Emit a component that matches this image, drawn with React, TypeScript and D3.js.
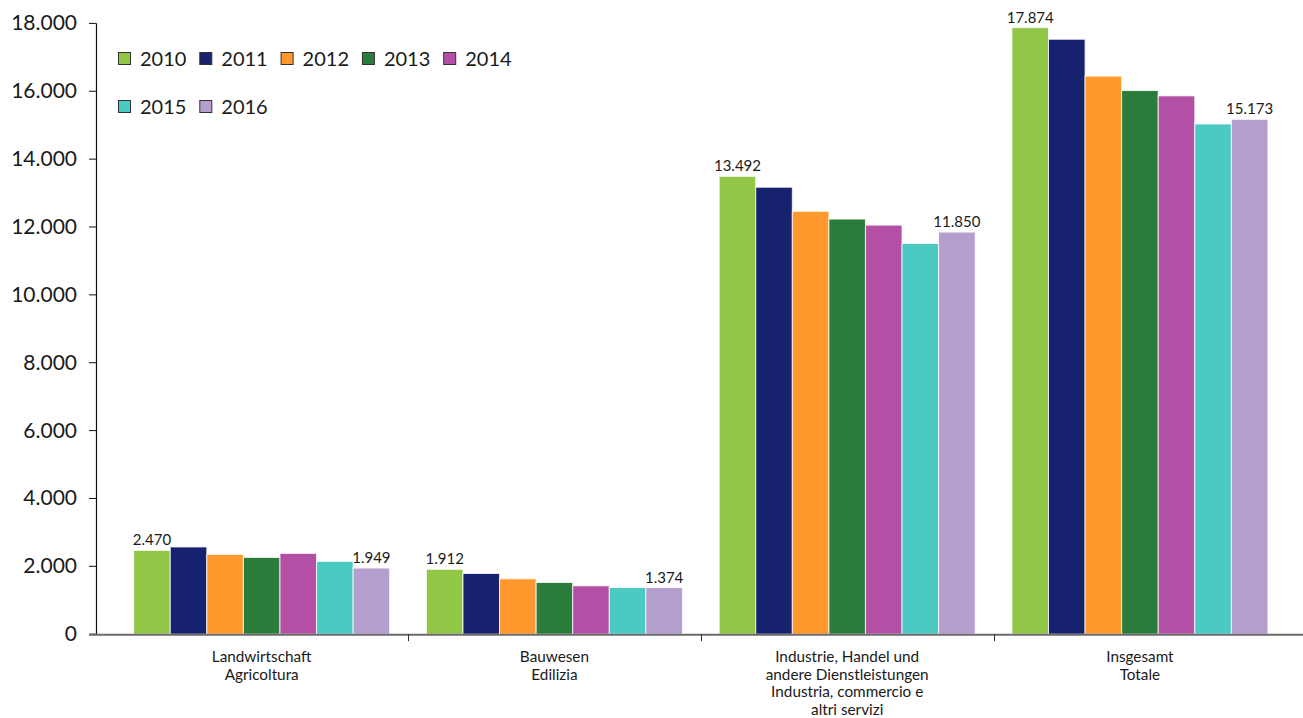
import { useEffect, useRef } from 'react';
import * as d3 from 'd3';

const WIDTH = 1303;
const HEIGHT = 718;

const YEARS = ['2010', '2011', '2012', '2013', '2014', '2015', '2016'];
const COLORS = ['#92c647', '#16226e', '#ff982d', '#2a7c3a', '#b350a6', '#4bcac4', '#b49ece'];

const CATEGORY_LINES = [
  ['Landwirtschaft', 'Agricoltura'],
  ['Bauwesen', 'Edilizia'],
  ['Industrie, Handel und', 'andere Dienstleistungen', 'Industria, commercio e', 'altri servizi'],
  ['Insgesamt', 'Totale'],
];

const AGRICOLTURA = [2470, 2571, 2352, 2263, 2382, 2145, 1949];
const EDILIZIA = [1912, 1790, 1633, 1524, 1426, 1376, 1374];
const INDUSTRIA = [13492, 13172, 12462, 12234, 12056, 11515, 11850];
const TOTALE = [17874, 17533, 16447, 16021, 15864, 15036, 15173];

const SERIES = [AGRICOLTURA, EDILIZIA, INDUSTRIA, TOTALE];

const Y_TICKS = [0, 2000, 4000, 6000, 8000, 10000, 12000, 14000, 16000, 18000];

const FONT = 'Lato, "Open Sans", sans-serif';

const itLocale = d3.formatLocale({
  decimal: ',',
  thousands: '.',
  grouping: [3],
  currency: ['', ''],
});
const fmt = itLocale.format(',d');

export default function App() {
  const svgRef = useRef<SVGSVGElement | null>(null);

  useEffect(() => {
    document.body.style.margin = '0';
    const svgEl = svgRef.current;
    if (!svgEl) return;
    const svg = d3.select(svgEl);
    svg.selectAll('*').remove();

    const y = d3.scaleLinear().domain([0, 18000]).range([634.2, 23.4]);
    const x0 = d3
      .scaleBand<number>()
      .domain(d3.range(CATEGORY_LINES.length))
      .range([115.3, 1286.3])
      .padding(0);
    const groupWidth = 256;
    const groupOffset = (x0.bandwidth() - groupWidth) / 2;
    const x1 = d3.scaleBand<string>().domain(YEARS).range([0, groupWidth]).padding(0);

    // ---- Y axis ---------------------------------------------------------
    const yAxis = svg.append('g');
    yAxis
      .append('line')
      .attr('x1', 96.5)
      .attr('x2', 96.5)
      .attr('y1', y(18000))
      .attr('y2', y(0))
      .attr('stroke', '#111')
      .attr('stroke-width', 1.2);
    const yt = yAxis
      .selectAll('g.tick')
      .data(Y_TICKS)
      .join('g')
      .attr('class', 'tick')
      .attr('transform', (d) => `translate(0, ${y(d)})`);
    yt.append('line')
      .attr('x1', 89)
      .attr('x2', 96.5)
      .attr('stroke', '#111')
      .attr('stroke-width', 1);
    yt.append('text')
      .attr('x', 77)
      .attr('y', 7)
      .attr('text-anchor', 'end')
      .attr('font-family', FONT)
      .attr('font-size', 21)
      .attr('fill', '#1a1a1a')
      .text((d) => fmt(d));

    // ---- Bars -----------------------------------------------------------
    const groups = svg
      .append('g')
      .selectAll('g.group')
      .data(SERIES)
      .join('g')
      .attr('class', 'group')
      .attr('transform', (_, i) => `translate(${(x0(i) ?? 0) + groupOffset}, 0)`);

    groups
      .selectAll('rect')
      .data((values) => values.map((v, j) => ({ v, j })))
      .join('rect')
      .attr('x', (d) => x1(YEARS[d.j]) ?? 0)
      .attr('width', x1.bandwidth())
      .attr('y', (d) => y(d.v))
      .attr('height', (d) => y(0) - y(d.v))
      .attr('fill', (d) => COLORS[d.j])
      .attr('stroke', '#ffffff')
      .attr('stroke-opacity', 0.8)
      .attr('stroke-width', 1);

    // value labels on first and last year
    groups
      .selectAll('text.value')
      .data((values) =>
        values.map((v, j) => ({ v, j })).filter((d) => d.j === 0 || d.j === YEARS.length - 1),
      )
      .join('text')
      .attr('class', 'value')
      .attr('x', (d) => (x1(YEARS[d.j]) ?? 0) + x1.bandwidth() / 2)
      .attr('y', (d) => y(d.v) - 5)
      .attr('text-anchor', 'middle')
      .attr('font-family', FONT)
      .attr('font-size', 15)
      .attr('fill', '#1a1a1a')
      .text((d) => fmt(d.v));

    // ---- X axis ---------------------------------------------------------
    const xAxis = svg.append('g');
    xAxis
      .append('line')
      .attr('x1', 89)
      .attr('x2', WIDTH)
      .attr('y1', y(0) + 0.5)
      .attr('y2', y(0) + 0.5)
      .attr('stroke', '#6b6b6b')
      .attr('stroke-width', 2);
    xAxis
      .selectAll('line.sep')
      .data(d3.range(1, CATEGORY_LINES.length))
      .join('line')
      .attr('class', 'sep')
      .attr('x1', (i) => Math.round(x0(i) ?? 0) + 0.5)
      .attr('x2', (i) => Math.round(x0(i) ?? 0) + 0.5)
      .attr('y1', y(0))
      .attr('y2', y(0) + 7)
      .attr('stroke', '#333')
      .attr('stroke-width', 1);

    const catLabels = xAxis
      .selectAll('text.cat')
      .data(CATEGORY_LINES)
      .join('text')
      .attr('class', 'cat')
      .attr('text-anchor', 'middle')
      .attr('font-family', FONT)
      .attr('font-size', 15.3)
      .attr('fill', '#1a1a1a');
    catLabels.each(function (lines, i) {
      const t = d3.select(this);
      const cx = (x0(i) ?? 0) + x0.bandwidth() / 2;
      lines.forEach((line, k) => {
        t.append('tspan')
          .attr('x', cx)
          .attr('y', 662 + k * 17.5)
          .text(line);
      });
    });

    // ---- Legend ---------------------------------------------------------
    const legend = svg.append('g').attr('transform', 'translate(118, 0)');
    const items = legend
      .selectAll('g.item')
      .data(YEARS)
      .join('g')
      .attr('class', 'item')
      .attr('transform', (_, i) => `translate(${(i % 5) * 81.3}, ${i < 5 ? 59 : 107})`);
    items
      .append('rect')
      .attr('x', 0.5)
      .attr('y', -6.5)
      .attr('width', 12)
      .attr('height', 12)
      .attr('fill', (_, i) => COLORS[i])
      .attr('stroke', '#333')
      .attr('stroke-width', 1);
    items
      .append('text')
      .attr('x', 22)
      .attr('y', 7)
      .attr('font-family', FONT)
      .attr('font-size', 20)
      .attr('fill', '#1a1a1a')
      .text((d) => d);
  }, []);

  return (
    <svg
      ref={svgRef}
      width={WIDTH}
      height={HEIGHT}
      viewBox={`0 0 ${WIDTH} ${HEIGHT}`}
      style={{ display: 'block', background: '#ffffff' }}
    />
  );
}
